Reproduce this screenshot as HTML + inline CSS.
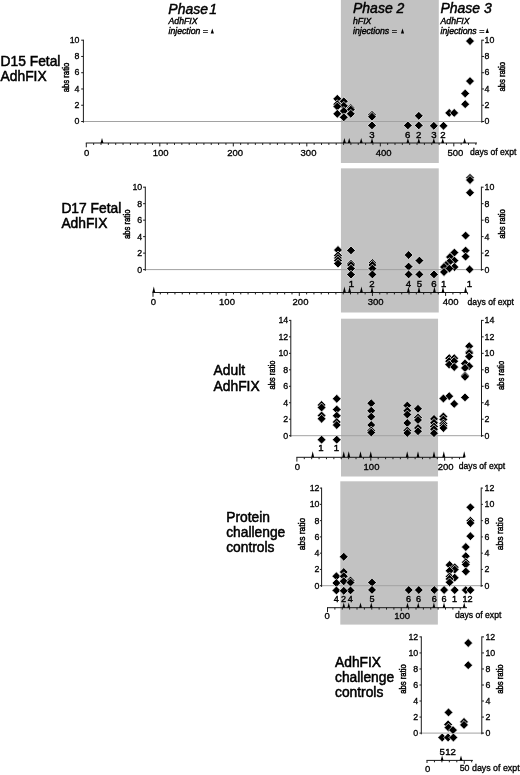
<!DOCTYPE html>
<html><head><meta charset="utf-8"><title>Figure</title>
<style>
html,body{margin:0;padding:0;background:#fff;}
svg{display:block;font-family:"Liberation Sans",sans-serif;}
text{stroke:#000;stroke-width:0.32;fill:#000;}
.d{fill:#000;stroke:#fff;stroke-width:0.7;}
.t{fill:#000;}
.ax{stroke:#1a1a1a;stroke-width:1;fill:none;}
.zl{stroke:#a2a2a2;stroke-width:1;fill:none;}
.ph{stroke-width:0.45;font-size:14px;font-style:italic;fill:#000;}
.sub{stroke-width:0.4;font-size:8.7px;font-style:italic;fill:#000;}
.tk{font-size:9.5px;fill:#000;}
.n{stroke-width:0.4;font-size:9.6px;fill:#000;}
.ar{stroke-width:0.45;font-size:9.6px;fill:#000;}
.de{font-size:8.6px;fill:#000;}
.lab{font-size:13.8px;stroke-width:0.5;fill:#000;}
</style></head><body>
<svg width="520" height="775" viewBox="0 0 520 775">
<rect width="520" height="775" fill="#fff"/>
<rect x="340.9" y="0" width="97.90" height="163.00" fill="#c2c2c2"/>
<rect x="340.95" y="168.35" width="97.80" height="144.15" fill="#c2c2c2"/>
<rect x="341.0" y="318.7" width="97.05" height="157.80" fill="#c2c2c2"/>
<rect x="340.3" y="481.3" width="97.55" height="143.30" fill="#c2c2c2"/>
<text x="168.30" y="13.50" class="ph" word-spacing="-2.6">Phase 1</text>
<text x="168.50" y="24.30" class="sub">AdhFIX</text>
<text x="168.50" y="33.60" class="sub">injection =</text>
<path class="t" d="M212.30 28.40L213.90 33.40L210.70 33.40Z"/>
<text x="353.00" y="13.20" class="ph">Phase 2</text>
<text x="353.00" y="24.20" class="sub">hFIX</text>
<text x="353.00" y="33.60" class="sub">injections =</text>
<path class="t" d="M402.50 28.40L404.10 33.40L400.90 33.40Z"/>
<text x="440.40" y="13.20" class="ph">Phase 3</text>
<text x="440.50" y="24.20" class="sub">AdhFIX</text>
<text x="440.50" y="33.60" class="sub">injections =</text>
<path class="t" d="M487.30 28.00L488.90 33.00L485.70 33.00Z"/>
<path class="zl" d="M83.00 121.50L483.00 121.50"/>
<path class="ax" d="M83.40 39.70L83.40 122.70"/>
<path class="ax" d="M81.20 121.50L83.40 121.50"/>
<text class="tk" text-anchor="end" transform="translate(79.50 124.10) scale(0.93 1)">0</text>
<path class="ax" d="M81.20 105.24L83.40 105.24"/>
<text class="tk" text-anchor="end" transform="translate(79.50 107.84) scale(0.93 1)">2</text>
<path class="ax" d="M81.20 88.98L83.40 88.98"/>
<text class="tk" text-anchor="end" transform="translate(79.50 91.58) scale(0.93 1)">4</text>
<path class="ax" d="M81.20 72.72L83.40 72.72"/>
<text class="tk" text-anchor="end" transform="translate(79.50 75.32) scale(0.93 1)">6</text>
<path class="ax" d="M81.20 56.46L83.40 56.46"/>
<text class="tk" text-anchor="end" transform="translate(79.50 59.06) scale(0.93 1)">8</text>
<path class="ax" d="M81.20 40.20L83.40 40.20"/>
<text class="tk" text-anchor="end" transform="translate(79.50 42.80) scale(0.93 1)">10</text>
<path class="ax" d="M481.80 39.70L481.80 122.70"/>
<path class="ax" d="M481.80 121.50L484.00 121.50"/>
<text class="tk" text-anchor="start" transform="translate(484.50 124.10) scale(0.93 1)">0</text>
<path class="ax" d="M481.80 105.24L484.00 105.24"/>
<text class="tk" text-anchor="start" transform="translate(484.50 107.84) scale(0.93 1)">2</text>
<path class="ax" d="M481.80 88.98L484.00 88.98"/>
<text class="tk" text-anchor="start" transform="translate(484.50 91.58) scale(0.93 1)">4</text>
<path class="ax" d="M481.80 72.72L484.00 72.72"/>
<text class="tk" text-anchor="start" transform="translate(484.50 75.32) scale(0.93 1)">6</text>
<path class="ax" d="M481.80 56.46L484.00 56.46"/>
<text class="tk" text-anchor="start" transform="translate(484.50 59.06) scale(0.93 1)">8</text>
<path class="ax" d="M481.80 40.20L484.00 40.20"/>
<text class="tk" text-anchor="start" transform="translate(484.50 42.80) scale(0.93 1)">10</text>
<text class="ar" text-anchor="middle" style="font-size:9.6px" textLength="29.6" lengthAdjust="spacingAndGlyphs" transform="translate(68.50 77.50) rotate(-90)">abs ratio</text>
<text class="ar" text-anchor="middle" style="font-size:9.6px" textLength="29.6" lengthAdjust="spacingAndGlyphs" transform="translate(505.00 76.80) rotate(-90)">abs ratio</text>
<text x="0.60" y="66.00" class="lab">D15 Fetal</text>
<text x="0.60" y="81.00" class="lab">AdhFIX</text>
<path class="ax" d="M85.80 143.00L477.00 143.00"/>
<path class="ax" d="M86.30 143.00L86.30 147.30"/>
<path class="ax" d="M93.65 143.00L93.65 144.90"/>
<path class="ax" d="M101.00 143.00L101.00 144.90"/>
<path class="ax" d="M108.35 143.00L108.35 144.90"/>
<path class="ax" d="M115.70 143.00L115.70 144.90"/>
<path class="ax" d="M123.05 143.00L123.05 144.90"/>
<path class="ax" d="M130.40 143.00L130.40 144.90"/>
<path class="ax" d="M137.75 143.00L137.75 144.90"/>
<path class="ax" d="M145.10 143.00L145.10 144.90"/>
<path class="ax" d="M152.45 143.00L152.45 144.90"/>
<path class="ax" d="M159.80 143.00L159.80 146.40"/>
<path class="ax" d="M167.15 143.00L167.15 144.90"/>
<path class="ax" d="M174.50 143.00L174.50 144.90"/>
<path class="ax" d="M181.85 143.00L181.85 144.90"/>
<path class="ax" d="M189.20 143.00L189.20 144.90"/>
<path class="ax" d="M196.55 143.00L196.55 144.90"/>
<path class="ax" d="M203.90 143.00L203.90 144.90"/>
<path class="ax" d="M211.25 143.00L211.25 144.90"/>
<path class="ax" d="M218.60 143.00L218.60 144.90"/>
<path class="ax" d="M225.95 143.00L225.95 144.90"/>
<path class="ax" d="M233.30 143.00L233.30 146.40"/>
<path class="ax" d="M240.65 143.00L240.65 144.90"/>
<path class="ax" d="M248.00 143.00L248.00 144.90"/>
<path class="ax" d="M255.35 143.00L255.35 144.90"/>
<path class="ax" d="M262.70 143.00L262.70 144.90"/>
<path class="ax" d="M270.05 143.00L270.05 144.90"/>
<path class="ax" d="M277.40 143.00L277.40 144.90"/>
<path class="ax" d="M284.75 143.00L284.75 144.90"/>
<path class="ax" d="M292.10 143.00L292.10 144.90"/>
<path class="ax" d="M299.45 143.00L299.45 144.90"/>
<path class="ax" d="M306.80 143.00L306.80 146.40"/>
<path class="ax" d="M314.15 143.00L314.15 144.90"/>
<path class="ax" d="M321.50 143.00L321.50 144.90"/>
<path class="ax" d="M328.85 143.00L328.85 144.90"/>
<path class="ax" d="M336.20 143.00L336.20 144.90"/>
<path class="ax" d="M343.55 143.00L343.55 144.90"/>
<path class="ax" d="M350.90 143.00L350.90 144.90"/>
<path class="ax" d="M358.25 143.00L358.25 144.90"/>
<path class="ax" d="M365.60 143.00L365.60 144.90"/>
<path class="ax" d="M372.95 143.00L372.95 144.90"/>
<path class="ax" d="M380.30 143.00L380.30 146.40"/>
<path class="ax" d="M387.65 143.00L387.65 144.90"/>
<path class="ax" d="M395.00 143.00L395.00 144.90"/>
<path class="ax" d="M402.35 143.00L402.35 144.90"/>
<path class="ax" d="M409.70 143.00L409.70 144.90"/>
<path class="ax" d="M417.05 143.00L417.05 144.90"/>
<path class="ax" d="M424.40 143.00L424.40 144.90"/>
<path class="ax" d="M431.75 143.00L431.75 144.90"/>
<path class="ax" d="M439.10 143.00L439.10 144.90"/>
<path class="ax" d="M446.45 143.00L446.45 144.90"/>
<path class="ax" d="M453.80 143.00L453.80 146.40"/>
<path class="ax" d="M461.15 143.00L461.15 144.90"/>
<path class="ax" d="M468.50 143.00L468.50 144.90"/>
<path class="ax" d="M475.85 143.00L475.85 144.90"/>
<text x="86.60" y="156.00" class="tk" text-anchor="middle">0</text>
<text x="160.60" y="156.00" class="tk" text-anchor="middle">100</text>
<text x="235.20" y="156.00" class="tk" text-anchor="middle">200</text>
<text x="308.50" y="156.00" class="tk" text-anchor="middle">300</text>
<text x="383.60" y="156.00" class="tk" text-anchor="middle">400</text>
<text x="455.40" y="156.00" class="tk" text-anchor="middle">500</text>
<text x="470.00" y="155.30" class="de">days of expt</text>
<path class="t" d="M102.00 138.00L103.45 143.00L100.55 143.00Z"/>
<path class="t" d="M344.40 138.00L345.85 143.00L342.95 143.00Z"/>
<path class="t" d="M349.20 138.00L350.65 143.00L347.75 143.00Z"/>
<path class="t" d="M361.20 138.00L362.65 143.00L359.75 143.00Z"/>
<path class="t" d="M372.00 138.00L373.45 143.00L370.55 143.00Z"/>
<path class="t" d="M407.90 138.00L409.35 143.00L406.45 143.00Z"/>
<path class="t" d="M418.80 138.00L420.25 143.00L417.35 143.00Z"/>
<path class="t" d="M433.80 138.00L435.25 143.00L432.35 143.00Z"/>
<path class="t" d="M442.70 138.00L444.15 143.00L441.25 143.00Z"/>
<path class="t" d="M464.60 138.00L466.05 143.00L463.15 143.00Z"/>
<path class="d" d="M470.00 36.70L474.40 41.10L470.00 45.50L465.60 41.10Z"/>
<path class="d" d="M470.00 76.70L474.40 81.10L470.00 85.50L465.60 81.10Z"/>
<path class="d" d="M465.20 89.10L469.60 93.50L465.20 97.90L460.80 93.50Z"/>
<path class="d" d="M337.30 94.40L341.70 98.80L337.30 103.20L332.90 98.80Z"/>
<path class="d" d="M343.80 96.90L348.20 101.30L343.80 105.70L339.40 101.30Z"/>
<path class="d" d="M337.30 99.80L341.70 104.20L337.30 108.60L332.90 104.20Z"/>
<path class="d" d="M465.20 99.80L469.60 104.20L465.20 108.60L460.80 104.20Z"/>
<path class="d" d="M343.80 101.40L348.20 105.80L343.80 110.20L339.40 105.80Z"/>
<path class="d" d="M337.30 102.10L341.70 106.50L337.30 110.90L332.90 106.50Z"/>
<path class="d" d="M350.80 103.60L355.20 108.00L350.80 112.40L346.40 108.00Z"/>
<path class="d" d="M350.80 105.20L355.20 109.60L350.80 114.00L346.40 109.60Z"/>
<path class="d" d="M343.80 106.60L348.20 111.00L343.80 115.40L339.40 111.00Z"/>
<path class="d" d="M449.20 108.50L453.60 112.90L449.20 117.30L444.80 112.90Z"/>
<path class="d" d="M454.20 108.50L458.60 112.90L454.20 117.30L449.80 112.90Z"/>
<path class="d" d="M337.30 109.40L341.70 113.80L337.30 118.20L332.90 113.80Z"/>
<path class="d" d="M350.80 109.40L355.20 113.80L350.80 118.20L346.40 113.80Z"/>
<path class="d" d="M372.00 110.40L376.40 114.80L372.00 119.20L367.60 114.80Z"/>
<path class="d" d="M418.80 111.40L423.20 115.80L418.80 120.20L414.40 115.80Z"/>
<path class="d" d="M372.00 112.30L376.40 116.70L372.00 121.10L367.60 116.70Z"/>
<path class="d" d="M343.80 112.90L348.20 117.30L343.80 121.70L339.40 117.30Z"/>
<path class="d" d="M372.00 121.00L376.40 125.40L372.00 129.80L367.60 125.40Z"/>
<path class="d" d="M407.90 121.00L412.30 125.40L407.90 129.80L403.50 125.40Z"/>
<path class="d" d="M418.80 121.00L423.20 125.40L418.80 129.80L414.40 125.40Z"/>
<path class="d" d="M433.80 121.40L438.20 125.80L433.80 130.20L429.40 125.80Z"/>
<path class="d" d="M443.50 121.40L447.90 125.80L443.50 130.20L439.10 125.80Z"/>
<text x="372.00" y="137.80" class="n" text-anchor="middle">3</text>
<text x="407.60" y="137.80" class="n" text-anchor="middle">6</text>
<text x="418.60" y="137.80" class="n" text-anchor="middle">2</text>
<text x="433.80" y="137.80" class="n" text-anchor="middle">3</text>
<text x="443.00" y="137.80" class="n" text-anchor="middle">2</text>
<path class="zl" d="M145.50 269.60L483.00 269.60"/>
<path class="ax" d="M145.30 186.70L145.30 270.80"/>
<path class="ax" d="M143.10 269.60L145.30 269.60"/>
<text class="tk" text-anchor="end" transform="translate(142.20 272.60) scale(0.93 1)">0</text>
<path class="ax" d="M143.10 253.12L145.30 253.12"/>
<text class="tk" text-anchor="end" transform="translate(142.20 256.12) scale(0.93 1)">2</text>
<path class="ax" d="M143.10 236.64L145.30 236.64"/>
<text class="tk" text-anchor="end" transform="translate(142.20 239.64) scale(0.93 1)">4</text>
<path class="ax" d="M143.10 220.16L145.30 220.16"/>
<text class="tk" text-anchor="end" transform="translate(142.20 223.16) scale(0.93 1)">6</text>
<path class="ax" d="M143.10 203.68L145.30 203.68"/>
<text class="tk" text-anchor="end" transform="translate(142.20 206.68) scale(0.93 1)">8</text>
<path class="ax" d="M143.10 187.20L145.30 187.20"/>
<text class="tk" text-anchor="end" transform="translate(142.20 190.20) scale(0.93 1)">10</text>
<path class="ax" d="M481.40 186.70L481.40 270.80"/>
<path class="ax" d="M481.40 269.60L483.60 269.60"/>
<text class="tk" text-anchor="start" transform="translate(484.50 272.60) scale(0.93 1)">0</text>
<path class="ax" d="M481.40 253.12L483.60 253.12"/>
<text class="tk" text-anchor="start" transform="translate(484.50 256.12) scale(0.93 1)">2</text>
<path class="ax" d="M481.40 236.64L483.60 236.64"/>
<text class="tk" text-anchor="start" transform="translate(484.50 239.64) scale(0.93 1)">4</text>
<path class="ax" d="M481.40 220.16L483.60 220.16"/>
<text class="tk" text-anchor="start" transform="translate(484.50 223.16) scale(0.93 1)">6</text>
<path class="ax" d="M481.40 203.68L483.60 203.68"/>
<text class="tk" text-anchor="start" transform="translate(484.50 206.68) scale(0.93 1)">8</text>
<path class="ax" d="M481.40 187.20L483.60 187.20"/>
<text class="tk" text-anchor="start" transform="translate(484.50 190.20) scale(0.93 1)">10</text>
<text class="ar" text-anchor="middle" style="font-size:9.6px" textLength="29.6" lengthAdjust="spacingAndGlyphs" transform="translate(130.20 224.30) rotate(-90)">abs ratio</text>
<text class="ar" text-anchor="middle" style="font-size:9.6px" textLength="29.6" lengthAdjust="spacingAndGlyphs" transform="translate(504.70 224.00) rotate(-90)">abs ratio</text>
<text x="61.40" y="212.50" class="lab">D17 Fetal</text>
<text x="61.40" y="227.50" class="lab">AdhFIX</text>
<path class="ax" d="M152.50 292.50L467.50 292.50"/>
<path class="ax" d="M153.00 292.50L153.00 296.80"/>
<path class="ax" d="M160.31 292.50L160.31 294.40"/>
<path class="ax" d="M167.63 292.50L167.63 294.40"/>
<path class="ax" d="M174.94 292.50L174.94 294.40"/>
<path class="ax" d="M182.26 292.50L182.26 294.40"/>
<path class="ax" d="M189.57 292.50L189.57 294.40"/>
<path class="ax" d="M196.89 292.50L196.89 294.40"/>
<path class="ax" d="M204.21 292.50L204.21 294.40"/>
<path class="ax" d="M211.52 292.50L211.52 294.40"/>
<path class="ax" d="M218.84 292.50L218.84 294.40"/>
<path class="ax" d="M226.15 292.50L226.15 295.90"/>
<path class="ax" d="M233.47 292.50L233.47 294.40"/>
<path class="ax" d="M240.78 292.50L240.78 294.40"/>
<path class="ax" d="M248.09 292.50L248.09 294.40"/>
<path class="ax" d="M255.41 292.50L255.41 294.40"/>
<path class="ax" d="M262.73 292.50L262.73 294.40"/>
<path class="ax" d="M270.04 292.50L270.04 294.40"/>
<path class="ax" d="M277.36 292.50L277.36 294.40"/>
<path class="ax" d="M284.67 292.50L284.67 294.40"/>
<path class="ax" d="M291.99 292.50L291.99 294.40"/>
<path class="ax" d="M299.30 292.50L299.30 295.90"/>
<path class="ax" d="M306.62 292.50L306.62 294.40"/>
<path class="ax" d="M313.93 292.50L313.93 294.40"/>
<path class="ax" d="M321.25 292.50L321.25 294.40"/>
<path class="ax" d="M328.56 292.50L328.56 294.40"/>
<path class="ax" d="M335.88 292.50L335.88 294.40"/>
<path class="ax" d="M343.19 292.50L343.19 294.40"/>
<path class="ax" d="M350.50 292.50L350.50 294.40"/>
<path class="ax" d="M357.82 292.50L357.82 294.40"/>
<path class="ax" d="M365.13 292.50L365.13 294.40"/>
<path class="ax" d="M372.45 292.50L372.45 295.90"/>
<path class="ax" d="M379.76 292.50L379.76 294.40"/>
<path class="ax" d="M387.08 292.50L387.08 294.40"/>
<path class="ax" d="M394.39 292.50L394.39 294.40"/>
<path class="ax" d="M401.71 292.50L401.71 294.40"/>
<path class="ax" d="M409.03 292.50L409.03 294.40"/>
<path class="ax" d="M416.34 292.50L416.34 294.40"/>
<path class="ax" d="M423.66 292.50L423.66 294.40"/>
<path class="ax" d="M430.97 292.50L430.97 294.40"/>
<path class="ax" d="M438.29 292.50L438.29 294.40"/>
<path class="ax" d="M445.60 292.50L445.60 295.90"/>
<path class="ax" d="M452.92 292.50L452.92 294.40"/>
<path class="ax" d="M460.23 292.50L460.23 294.40"/>
<path class="ax" d="M467.55 292.50L467.55 294.40"/>
<text x="153.30" y="305.20" class="tk" text-anchor="middle">0</text>
<text x="227.00" y="305.20" class="tk" text-anchor="middle">100</text>
<text x="300.50" y="305.20" class="tk" text-anchor="middle">200</text>
<text x="375.60" y="305.20" class="tk" text-anchor="middle">300</text>
<text x="450.60" y="305.20" class="tk" text-anchor="middle">400</text>
<text x="467.60" y="305.00" class="de">days of expt</text>
<path class="t" d="M153.80 286.50L155.25 292.50L152.35 292.50Z"/>
<path class="t" d="M344.40 286.50L345.85 292.50L342.95 292.50Z"/>
<path class="t" d="M349.60 286.50L351.05 292.50L348.15 292.50Z"/>
<path class="t" d="M361.40 286.50L362.85 292.50L359.95 292.50Z"/>
<path class="t" d="M372.00 286.50L373.45 292.50L370.55 292.50Z"/>
<path class="t" d="M408.40 286.50L409.85 292.50L406.95 292.50Z"/>
<path class="t" d="M419.00 286.50L420.45 292.50L417.55 292.50Z"/>
<path class="t" d="M434.40 286.50L435.85 292.50L432.95 292.50Z"/>
<path class="t" d="M443.00 286.50L444.45 292.50L441.55 292.50Z"/>
<path class="t" d="M465.60 286.50L467.05 292.50L464.15 292.50Z"/>
<path class="d" d="M470.00 173.40L474.40 177.80L470.00 182.20L465.60 177.80Z"/>
<path class="d" d="M470.00 175.60L474.40 180.00L470.00 184.40L465.60 180.00Z"/>
<path class="d" d="M470.00 188.30L474.40 192.70L470.00 197.10L465.60 192.70Z"/>
<path class="d" d="M465.60 231.20L470.00 235.60L465.60 240.00L461.20 235.60Z"/>
<path class="d" d="M338.00 245.60L342.40 250.00L338.00 254.40L333.60 250.00Z"/>
<path class="d" d="M351.00 246.00L355.40 250.40L351.00 254.80L346.60 250.40Z"/>
<path class="d" d="M465.60 246.20L470.00 250.60L465.60 255.00L461.20 250.60Z"/>
<path class="d" d="M454.40 248.20L458.80 252.60L454.40 257.00L450.00 252.60Z"/>
<path class="d" d="M408.60 250.60L413.00 255.00L408.60 259.40L404.20 255.00Z"/>
<path class="d" d="M338.00 251.00L342.40 255.40L338.00 259.80L333.60 255.40Z"/>
<path class="d" d="M465.60 252.20L470.00 256.60L465.60 261.00L461.20 256.60Z"/>
<path class="d" d="M450.00 252.60L454.40 257.00L450.00 261.40L445.60 257.00Z"/>
<path class="d" d="M338.00 253.60L342.40 258.00L338.00 262.40L333.60 258.00Z"/>
<path class="d" d="M338.00 256.20L342.40 260.60L338.00 265.00L333.60 260.60Z"/>
<path class="d" d="M419.40 256.20L423.80 260.60L419.40 265.00L415.00 260.60Z"/>
<path class="d" d="M454.40 256.20L458.80 260.60L454.40 265.00L450.00 260.60Z"/>
<path class="d" d="M449.40 257.60L453.80 262.00L449.40 266.40L445.00 262.00Z"/>
<path class="d" d="M372.40 258.60L376.80 263.00L372.40 267.40L368.00 263.00Z"/>
<path class="d" d="M351.00 259.00L355.40 263.40L351.00 267.80L346.60 263.40Z"/>
<path class="d" d="M338.00 259.20L342.40 263.60L338.00 268.00L333.60 263.60Z"/>
<path class="d" d="M351.00 260.60L355.40 265.00L351.00 269.40L346.60 265.00Z"/>
<path class="d" d="M372.40 260.60L376.80 265.00L372.40 269.40L368.00 265.00Z"/>
<path class="d" d="M446.00 260.60L450.40 265.00L446.00 269.40L441.60 265.00Z"/>
<path class="d" d="M408.60 262.20L413.00 266.60L408.60 271.00L404.20 266.60Z"/>
<path class="d" d="M444.00 262.60L448.40 267.00L444.00 271.40L439.60 267.00Z"/>
<path class="d" d="M454.40 262.60L458.80 267.00L454.40 271.40L450.00 267.00Z"/>
<path class="d" d="M351.00 264.20L355.40 268.60L351.00 273.00L346.60 268.60Z"/>
<path class="d" d="M372.40 264.20L376.80 268.60L372.40 273.00L368.00 268.60Z"/>
<path class="d" d="M449.40 264.20L453.80 268.60L449.40 273.00L445.00 268.60Z"/>
<path class="d" d="M469.60 265.00L474.00 269.40L469.60 273.80L465.20 269.40Z"/>
<path class="d" d="M444.00 267.60L448.40 272.00L444.00 276.40L439.60 272.00Z"/>
<path class="d" d="M372.40 270.00L376.80 274.40L372.40 278.80L368.00 274.40Z"/>
<path class="d" d="M408.60 270.00L413.00 274.40L408.60 278.80L404.20 274.40Z"/>
<path class="d" d="M419.40 270.00L423.80 274.40L419.40 278.80L415.00 274.40Z"/>
<path class="d" d="M434.00 270.00L438.40 274.40L434.00 278.80L429.60 274.40Z"/>
<path class="d" d="M351.00 270.20L355.40 274.60L351.00 279.00L346.60 274.60Z"/>
<text x="351.50" y="287.40" class="n" text-anchor="middle">1</text>
<text x="372.00" y="287.40" class="n" text-anchor="middle">2</text>
<text x="408.50" y="287.40" class="n" text-anchor="middle">4</text>
<text x="419.50" y="287.40" class="n" text-anchor="middle">5</text>
<text x="434.00" y="287.40" class="n" text-anchor="middle">6</text>
<text x="443.60" y="287.40" class="n" text-anchor="middle">1</text>
<text x="469.40" y="287.40" class="n" text-anchor="middle">1</text>
<path class="zl" d="M290.50 435.70L483.00 435.70"/>
<path class="ax" d="M290.80 319.90L290.80 436.90"/>
<path class="ax" d="M289.00 435.70L290.80 435.70"/>
<text class="tk" text-anchor="end" transform="translate(288.20 438.70) scale(0.93 1)">0</text>
<path class="ax" d="M289.00 419.23L290.80 419.23"/>
<text class="tk" text-anchor="end" transform="translate(288.20 422.23) scale(0.93 1)">2</text>
<path class="ax" d="M289.00 402.76L290.80 402.76"/>
<text class="tk" text-anchor="end" transform="translate(288.20 405.76) scale(0.93 1)">4</text>
<path class="ax" d="M289.00 386.29L290.80 386.29"/>
<text class="tk" text-anchor="end" transform="translate(288.20 389.29) scale(0.93 1)">6</text>
<path class="ax" d="M289.00 369.81L290.80 369.81"/>
<text class="tk" text-anchor="end" transform="translate(288.20 372.81) scale(0.93 1)">8</text>
<path class="ax" d="M289.00 353.34L290.80 353.34"/>
<text class="tk" text-anchor="end" transform="translate(288.20 356.34) scale(0.93 1)">10</text>
<path class="ax" d="M289.00 336.87L290.80 336.87"/>
<text class="tk" text-anchor="end" transform="translate(288.20 339.87) scale(0.93 1)">12</text>
<path class="ax" d="M289.00 320.40L290.80 320.40"/>
<text class="tk" text-anchor="end" transform="translate(288.20 323.40) scale(0.93 1)">14</text>
<path class="ax" d="M481.50 319.90L481.50 436.90"/>
<path class="ax" d="M481.50 435.70L483.70 435.70"/>
<text class="tk" text-anchor="start" transform="translate(484.60 438.70) scale(0.93 1)">0</text>
<path class="ax" d="M481.50 419.23L483.70 419.23"/>
<text class="tk" text-anchor="start" transform="translate(484.60 422.23) scale(0.93 1)">2</text>
<path class="ax" d="M481.50 402.76L483.70 402.76"/>
<text class="tk" text-anchor="start" transform="translate(484.60 405.76) scale(0.93 1)">4</text>
<path class="ax" d="M481.50 386.29L483.70 386.29"/>
<text class="tk" text-anchor="start" transform="translate(484.60 389.29) scale(0.93 1)">6</text>
<path class="ax" d="M481.50 369.81L483.70 369.81"/>
<text class="tk" text-anchor="start" transform="translate(484.60 372.81) scale(0.93 1)">8</text>
<path class="ax" d="M481.50 353.34L483.70 353.34"/>
<text class="tk" text-anchor="start" transform="translate(484.60 356.34) scale(0.93 1)">10</text>
<path class="ax" d="M481.50 336.87L483.70 336.87"/>
<text class="tk" text-anchor="start" transform="translate(484.60 339.87) scale(0.93 1)">12</text>
<path class="ax" d="M481.50 320.40L483.70 320.40"/>
<text class="tk" text-anchor="start" transform="translate(484.60 323.40) scale(0.93 1)">14</text>
<text class="ar" text-anchor="middle" style="font-size:9.0px" textLength="29.2" lengthAdjust="spacingAndGlyphs" transform="translate(275.30 375.00) rotate(-90)">abs ratio</text>
<text class="ar" text-anchor="middle" style="font-size:9.4px" textLength="29.4" lengthAdjust="spacingAndGlyphs" transform="translate(503.50 375.40) rotate(-90)">abs ratio</text>
<text x="213.60" y="375.00" class="lab">Adult</text>
<text x="213.60" y="391.20" class="lab">AdhFIX</text>
<path class="ax" d="M296.40 457.30L464.60 457.30"/>
<path class="ax" d="M296.90 457.30L296.90 461.60"/>
<path class="ax" d="M304.29 457.30L304.29 459.20"/>
<path class="ax" d="M311.68 457.30L311.68 459.20"/>
<path class="ax" d="M319.07 457.30L319.07 459.20"/>
<path class="ax" d="M326.46 457.30L326.46 459.20"/>
<path class="ax" d="M333.85 457.30L333.85 459.20"/>
<path class="ax" d="M341.24 457.30L341.24 459.20"/>
<path class="ax" d="M348.63 457.30L348.63 459.20"/>
<path class="ax" d="M356.02 457.30L356.02 459.20"/>
<path class="ax" d="M363.41 457.30L363.41 459.20"/>
<path class="ax" d="M370.80 457.30L370.80 460.70"/>
<path class="ax" d="M378.19 457.30L378.19 459.20"/>
<path class="ax" d="M385.58 457.30L385.58 459.20"/>
<path class="ax" d="M392.97 457.30L392.97 459.20"/>
<path class="ax" d="M400.36 457.30L400.36 459.20"/>
<path class="ax" d="M407.75 457.30L407.75 459.20"/>
<path class="ax" d="M415.14 457.30L415.14 459.20"/>
<path class="ax" d="M422.53 457.30L422.53 459.20"/>
<path class="ax" d="M429.92 457.30L429.92 459.20"/>
<path class="ax" d="M437.31 457.30L437.31 459.20"/>
<path class="ax" d="M444.70 457.30L444.70 460.70"/>
<path class="ax" d="M452.09 457.30L452.09 459.20"/>
<path class="ax" d="M459.48 457.30L459.48 459.20"/>
<text x="297.40" y="469.50" class="tk" text-anchor="middle">0</text>
<text x="371.50" y="469.50" class="tk" text-anchor="middle">100</text>
<text x="445.70" y="469.50" class="tk" text-anchor="middle">200</text>
<text x="458.80" y="469.20" class="de">days of expt</text>
<path class="t" d="M312.70 451.30L314.15 457.30L311.25 457.30Z"/>
<path class="t" d="M343.75 451.30L345.20 457.30L342.30 457.30Z"/>
<path class="t" d="M348.75 451.30L350.20 457.30L347.30 457.30Z"/>
<path class="t" d="M360.50 451.30L361.95 457.30L359.05 457.30Z"/>
<path class="t" d="M370.75 451.30L372.20 457.30L369.30 457.30Z"/>
<path class="t" d="M407.20 451.30L408.65 457.30L405.75 457.30Z"/>
<path class="t" d="M418.00 451.30L419.45 457.30L416.55 457.30Z"/>
<path class="t" d="M434.00 451.30L435.45 457.30L432.55 457.30Z"/>
<path class="t" d="M443.80 451.30L445.25 457.30L442.35 457.30Z"/>
<path class="t" d="M464.20 451.30L465.65 457.30L462.75 457.30Z"/>
<path class="d" d="M469.20 341.80L473.60 346.20L469.20 350.60L464.80 346.20Z"/>
<path class="d" d="M469.20 347.60L473.60 352.00L469.20 356.40L464.80 352.00Z"/>
<path class="d" d="M469.20 348.60L473.60 353.00L469.20 357.40L464.80 353.00Z"/>
<path class="d" d="M469.20 352.10L473.60 356.50L469.20 360.90L464.80 356.50Z"/>
<path class="d" d="M449.20 353.80L453.60 358.20L449.20 362.60L444.80 358.20Z"/>
<path class="d" d="M454.20 353.80L458.60 358.20L454.20 362.60L449.80 358.20Z"/>
<path class="d" d="M449.20 356.80L453.60 361.20L449.20 365.60L444.80 361.20Z"/>
<path class="d" d="M454.20 356.80L458.60 361.20L454.20 365.60L449.80 361.20Z"/>
<path class="d" d="M465.00 359.10L469.40 363.50L465.00 367.90L460.60 363.50Z"/>
<path class="d" d="M449.20 360.20L453.60 364.60L449.20 369.00L444.80 364.60Z"/>
<path class="d" d="M469.20 361.80L473.60 366.20L469.20 370.60L464.80 366.20Z"/>
<path class="d" d="M454.20 362.60L458.60 367.00L454.20 371.40L449.80 367.00Z"/>
<path class="d" d="M465.00 363.60L469.40 368.00L465.00 372.40L460.60 368.00Z"/>
<path class="d" d="M465.00 371.10L469.40 375.50L465.00 379.90L460.60 375.50Z"/>
<path class="d" d="M465.00 372.40L469.40 376.80L465.00 381.20L460.60 376.80Z"/>
<path class="d" d="M449.20 391.80L453.60 396.20L449.20 400.60L444.80 396.20Z"/>
<path class="d" d="M465.00 393.00L469.40 397.40L465.00 401.80L460.60 397.40Z"/>
<path class="d" d="M443.40 394.10L447.80 398.50L443.40 402.90L439.00 398.50Z"/>
<path class="d" d="M336.75 394.35L341.15 398.75L336.75 403.15L332.35 398.75Z"/>
<path class="d" d="M371.25 398.85L375.65 403.25L371.25 407.65L366.85 403.25Z"/>
<path class="d" d="M454.20 399.50L458.60 403.90L454.20 408.30L449.80 403.90Z"/>
<path class="d" d="M321.60 400.60L326.00 405.00L321.60 409.40L317.20 405.00Z"/>
<path class="d" d="M407.30 401.10L411.70 405.50L407.30 409.90L402.90 405.50Z"/>
<path class="d" d="M321.60 403.10L326.00 407.50L321.60 411.90L317.20 407.50Z"/>
<path class="d" d="M418.00 404.35L422.40 408.75L418.00 413.15L413.60 408.75Z"/>
<path class="d" d="M336.75 405.10L341.15 409.50L336.75 413.90L332.35 409.50Z"/>
<path class="d" d="M371.25 406.35L375.65 410.75L371.25 415.15L366.85 410.75Z"/>
<path class="d" d="M407.30 406.35L411.70 410.75L407.30 415.15L402.90 410.75Z"/>
<path class="d" d="M407.30 410.10L411.70 414.50L407.30 418.90L402.90 414.50Z"/>
<path class="d" d="M321.60 411.10L326.00 415.50L321.60 419.90L317.20 415.50Z"/>
<path class="d" d="M336.75 411.35L341.15 415.75L336.75 420.15L332.35 415.75Z"/>
<path class="d" d="M443.40 412.10L447.80 416.50L443.40 420.90L439.00 416.50Z"/>
<path class="d" d="M371.25 412.35L375.65 416.75L371.25 421.15L366.85 416.75Z"/>
<path class="d" d="M418.00 413.10L422.40 417.50L418.00 421.90L413.60 417.50Z"/>
<path class="d" d="M321.60 414.35L326.00 418.75L321.60 423.15L317.20 418.75Z"/>
<path class="d" d="M434.00 414.50L438.40 418.90L434.00 423.30L429.60 418.90Z"/>
<path class="d" d="M443.40 415.10L447.80 419.50L443.40 423.90L439.00 419.50Z"/>
<path class="d" d="M418.00 415.60L422.40 420.00L418.00 424.40L413.60 420.00Z"/>
<path class="d" d="M336.75 417.60L341.15 422.00L336.75 426.40L332.35 422.00Z"/>
<path class="d" d="M434.00 418.40L438.40 422.80L434.00 427.20L429.60 422.80Z"/>
<path class="d" d="M407.30 418.60L411.70 423.00L407.30 427.40L402.90 423.00Z"/>
<path class="d" d="M443.40 419.10L447.80 423.50L443.40 427.90L439.00 423.50Z"/>
<path class="d" d="M336.75 420.60L341.15 425.00L336.75 429.40L332.35 425.00Z"/>
<path class="d" d="M371.25 420.60L375.65 425.00L371.25 429.40L366.85 425.00Z"/>
<path class="d" d="M443.40 421.40L447.80 425.80L443.40 430.20L439.00 425.80Z"/>
<path class="d" d="M434.00 422.10L438.40 426.50L434.00 430.90L429.60 426.50Z"/>
<path class="d" d="M418.00 423.60L422.40 428.00L418.00 432.40L413.60 428.00Z"/>
<path class="d" d="M443.40 423.60L447.80 428.00L443.40 432.40L439.00 428.00Z"/>
<path class="d" d="M434.00 424.80L438.40 429.20L434.00 433.60L429.60 429.20Z"/>
<path class="d" d="M371.25 426.10L375.65 430.50L371.25 434.90L366.85 430.50Z"/>
<path class="d" d="M407.30 426.10L411.70 430.50L407.30 434.90L402.90 430.50Z"/>
<path class="d" d="M418.00 426.85L422.40 431.25L418.00 435.65L413.60 431.25Z"/>
<path class="d" d="M371.25 428.10L375.65 432.50L371.25 436.90L366.85 432.50Z"/>
<path class="d" d="M407.30 428.60L411.70 433.00L407.30 437.40L402.90 433.00Z"/>
<path class="d" d="M434.00 428.80L438.40 433.20L434.00 437.60L429.60 433.20Z"/>
<path class="d" d="M321.60 435.30L326.00 439.70L321.60 444.10L317.20 439.70Z"/>
<path class="d" d="M336.75 435.30L341.15 439.70L336.75 444.10L332.35 439.70Z"/>
<text x="321.00" y="451.30" class="n" text-anchor="middle">1</text>
<text x="336.50" y="451.30" class="n" text-anchor="middle">1</text>
<path class="zl" d="M321.20 585.70L483.00 585.70"/>
<path class="ax" d="M321.60 487.60L321.60 586.90"/>
<path class="ax" d="M319.90 585.70L321.60 585.70"/>
<text class="tk" text-anchor="end" transform="translate(319.50 588.70) scale(0.93 1)">0</text>
<path class="ax" d="M319.90 569.43L321.60 569.43"/>
<text class="tk" text-anchor="end" transform="translate(319.50 572.43) scale(0.93 1)">2</text>
<path class="ax" d="M319.90 553.17L321.60 553.17"/>
<text class="tk" text-anchor="end" transform="translate(319.50 556.17) scale(0.93 1)">4</text>
<path class="ax" d="M319.90 536.90L321.60 536.90"/>
<text class="tk" text-anchor="end" transform="translate(319.50 539.90) scale(0.93 1)">6</text>
<path class="ax" d="M319.90 520.63L321.60 520.63"/>
<text class="tk" text-anchor="end" transform="translate(319.50 523.63) scale(0.93 1)">8</text>
<path class="ax" d="M319.90 504.37L321.60 504.37"/>
<text class="tk" text-anchor="end" transform="translate(319.50 507.37) scale(0.93 1)">10</text>
<path class="ax" d="M319.90 488.10L321.60 488.10"/>
<text class="tk" text-anchor="end" transform="translate(319.50 491.10) scale(0.93 1)">12</text>
<path class="ax" d="M481.20 487.60L481.20 586.90"/>
<path class="ax" d="M481.20 585.70L482.90 585.70"/>
<text class="tk" text-anchor="start" transform="translate(484.50 588.70) scale(0.93 1)">0</text>
<path class="ax" d="M481.20 569.43L482.90 569.43"/>
<text class="tk" text-anchor="start" transform="translate(484.50 572.43) scale(0.93 1)">2</text>
<path class="ax" d="M481.20 553.17L482.90 553.17"/>
<text class="tk" text-anchor="start" transform="translate(484.50 556.17) scale(0.93 1)">4</text>
<path class="ax" d="M481.20 536.90L482.90 536.90"/>
<text class="tk" text-anchor="start" transform="translate(484.50 539.90) scale(0.93 1)">6</text>
<path class="ax" d="M481.20 520.63L482.90 520.63"/>
<text class="tk" text-anchor="start" transform="translate(484.50 523.63) scale(0.93 1)">8</text>
<path class="ax" d="M481.20 504.37L482.90 504.37"/>
<text class="tk" text-anchor="start" transform="translate(484.50 507.37) scale(0.93 1)">10</text>
<path class="ax" d="M481.20 488.10L482.90 488.10"/>
<text class="tk" text-anchor="start" transform="translate(484.50 491.10) scale(0.93 1)">12</text>
<text class="ar" text-anchor="middle" style="font-size:9.0px" textLength="32.6" lengthAdjust="spacingAndGlyphs" transform="translate(305.30 534.00) rotate(-90)">abs ratio</text>
<text class="ar" text-anchor="middle" style="font-size:9.4px" textLength="33.0" lengthAdjust="spacingAndGlyphs" transform="translate(503.30 533.80) rotate(-90)">abs ratio</text>
<text x="226.20" y="521.70" class="lab">Protein</text>
<text x="226.20" y="537.00" class="lab">challenge</text>
<text x="226.20" y="552.00" class="lab">controls</text>
<path class="ax" d="M327.00 607.70L467.00 607.70"/>
<path class="ax" d="M327.50 607.70L327.50 612.00"/>
<path class="ax" d="M334.88 607.70L334.88 609.60"/>
<path class="ax" d="M342.25 607.70L342.25 609.60"/>
<path class="ax" d="M349.62 607.70L349.62 609.60"/>
<path class="ax" d="M357.00 607.70L357.00 609.60"/>
<path class="ax" d="M364.38 607.70L364.38 609.60"/>
<path class="ax" d="M371.75 607.70L371.75 609.60"/>
<path class="ax" d="M379.12 607.70L379.12 609.60"/>
<path class="ax" d="M386.50 607.70L386.50 609.60"/>
<path class="ax" d="M393.88 607.70L393.88 609.60"/>
<path class="ax" d="M401.25 607.70L401.25 611.10"/>
<path class="ax" d="M408.62 607.70L408.62 609.60"/>
<path class="ax" d="M416.00 607.70L416.00 609.60"/>
<path class="ax" d="M423.38 607.70L423.38 609.60"/>
<path class="ax" d="M430.75 607.70L430.75 609.60"/>
<path class="ax" d="M438.12 607.70L438.12 609.60"/>
<path class="ax" d="M445.50 607.70L445.50 609.60"/>
<path class="ax" d="M452.88 607.70L452.88 609.60"/>
<path class="ax" d="M460.25 607.70L460.25 609.60"/>
<text x="327.20" y="618.80" class="tk" text-anchor="middle">0</text>
<text x="402.20" y="618.80" class="tk" text-anchor="middle">100</text>
<text x="455.00" y="617.70" class="de">days of expt</text>
<path class="t" d="M343.75 602.40L345.15 607.70L342.35 607.70Z"/>
<path class="t" d="M348.75 602.40L350.15 607.70L347.35 607.70Z"/>
<path class="t" d="M360.50 602.40L361.90 607.70L359.10 607.70Z"/>
<path class="t" d="M371.25 602.40L372.65 607.70L369.85 607.70Z"/>
<path class="t" d="M407.50 602.40L408.90 607.70L406.10 607.70Z"/>
<path class="t" d="M418.25 602.40L419.65 607.70L416.85 607.70Z"/>
<path class="t" d="M433.90 602.40L435.30 607.70L432.50 607.70Z"/>
<path class="t" d="M444.00 602.40L445.40 607.70L442.60 607.70Z"/>
<path class="t" d="M464.20 602.40L465.60 607.70L462.80 607.70Z"/>
<path class="d" d="M470.40 502.90L474.80 507.30L470.40 511.70L466.00 507.30Z"/>
<path class="d" d="M470.40 516.30L474.80 520.70L470.40 525.10L466.00 520.70Z"/>
<path class="d" d="M470.40 518.60L474.80 523.00L470.40 527.40L466.00 523.00Z"/>
<path class="d" d="M470.40 531.80L474.80 536.20L470.40 540.60L466.00 536.20Z"/>
<path class="d" d="M465.80 542.60L470.20 547.00L465.80 551.40L461.40 547.00Z"/>
<path class="d" d="M465.80 551.80L470.20 556.20L465.80 560.60L461.40 556.20Z"/>
<path class="d" d="M343.75 552.35L348.15 556.75L343.75 561.15L339.35 556.75Z"/>
<path class="d" d="M465.80 557.80L470.20 562.20L465.80 566.60L461.40 562.20Z"/>
<path class="d" d="M465.80 560.10L470.20 564.50L465.80 568.90L461.40 564.50Z"/>
<path class="d" d="M449.60 560.60L454.00 565.00L449.60 569.40L445.20 565.00Z"/>
<path class="d" d="M454.70 562.90L459.10 567.30L454.70 571.70L450.30 567.30Z"/>
<path class="d" d="M454.70 565.20L459.10 569.60L454.70 574.00L450.30 569.60Z"/>
<path class="d" d="M449.60 566.40L454.00 570.80L449.60 575.20L445.20 570.80Z"/>
<path class="d" d="M465.80 567.10L470.20 571.50L465.80 575.90L461.40 571.50Z"/>
<path class="d" d="M343.75 567.60L348.15 572.00L343.75 576.40L339.35 572.00Z"/>
<path class="d" d="M336.40 571.85L340.80 576.25L336.40 580.65L332.00 576.25Z"/>
<path class="d" d="M343.75 571.85L348.15 576.25L343.75 580.65L339.35 576.25Z"/>
<path class="d" d="M449.60 572.10L454.00 576.50L449.60 580.90L445.20 576.50Z"/>
<path class="d" d="M454.70 573.30L459.10 577.70L454.70 582.10L450.30 577.70Z"/>
<path class="d" d="M449.60 574.50L454.00 578.90L449.60 583.30L445.20 578.90Z"/>
<path class="d" d="M350.50 576.10L354.90 580.50L350.50 584.90L346.10 580.50Z"/>
<path class="d" d="M343.75 576.85L348.15 581.25L343.75 585.65L339.35 581.25Z"/>
<path class="d" d="M449.60 577.90L454.00 582.30L449.60 586.70L445.20 582.30Z"/>
<path class="d" d="M350.50 578.10L354.90 582.50L350.50 586.90L346.10 582.50Z"/>
<path class="d" d="M372.00 578.10L376.40 582.50L372.00 586.90L367.60 582.50Z"/>
<path class="d" d="M336.40 578.60L340.80 583.00L336.40 587.40L332.00 583.00Z"/>
<path class="d" d="M372.00 585.50L376.40 589.90L372.00 594.30L367.60 589.90Z"/>
<path class="d" d="M408.75 585.60L413.15 590.00L408.75 594.40L404.35 590.00Z"/>
<path class="d" d="M418.80 585.60L423.20 590.00L418.80 594.40L414.40 590.00Z"/>
<path class="d" d="M434.30 585.60L438.70 590.00L434.30 594.40L429.90 590.00Z"/>
<path class="d" d="M444.10 585.60L448.50 590.00L444.10 594.40L439.70 590.00Z"/>
<path class="d" d="M454.70 585.70L459.10 590.10L454.70 594.50L450.30 590.10Z"/>
<path class="d" d="M465.80 585.70L470.20 590.10L465.80 594.50L461.40 590.10Z"/>
<path class="d" d="M470.40 585.70L474.80 590.10L470.40 594.50L466.00 590.10Z"/>
<path class="d" d="M336.40 586.00L340.80 590.40L336.40 594.80L332.00 590.40Z"/>
<path class="d" d="M350.50 586.00L354.90 590.40L350.50 594.80L346.10 590.40Z"/>
<path class="d" d="M343.75 586.40L348.15 590.80L343.75 595.20L339.35 590.80Z"/>
<text x="336.20" y="601.80" class="n" text-anchor="middle" style="font-size:9.1px">4</text>
<text x="343.50" y="601.80" class="n" text-anchor="middle" style="font-size:9.1px">2</text>
<text x="350.20" y="601.80" class="n" text-anchor="middle" style="font-size:9.1px">4</text>
<text x="372.00" y="601.80" class="n" text-anchor="middle" style="font-size:9.1px">5</text>
<text x="408.50" y="601.80" class="n" text-anchor="middle" style="font-size:9.1px">6</text>
<text x="418.50" y="601.80" class="n" text-anchor="middle" style="font-size:9.1px">6</text>
<text x="434.30" y="601.80" class="n" text-anchor="middle" style="font-size:9.1px">6</text>
<text x="444.00" y="601.80" class="n" text-anchor="middle" style="font-size:9.1px">6</text>
<text x="454.50" y="601.80" class="n" text-anchor="middle" style="font-size:9.1px">1</text>
<text x="467.60" y="601.80" class="n" text-anchor="middle" style="font-size:9.1px">12</text>
<path class="zl" d="M421.20 733.10L483.00 733.10"/>
<path class="ax" d="M421.30 636.40L421.30 734.30"/>
<path class="ax" d="M419.50 733.10L421.30 733.10"/>
<text class="tk" text-anchor="end" transform="translate(418.20 736.10) scale(0.93 1)">0</text>
<path class="ax" d="M419.50 717.07L421.30 717.07"/>
<text class="tk" text-anchor="end" transform="translate(418.20 720.07) scale(0.93 1)">2</text>
<path class="ax" d="M419.50 701.03L421.30 701.03"/>
<text class="tk" text-anchor="end" transform="translate(418.20 704.03) scale(0.93 1)">4</text>
<path class="ax" d="M419.50 685.00L421.30 685.00"/>
<text class="tk" text-anchor="end" transform="translate(418.20 688.00) scale(0.93 1)">6</text>
<path class="ax" d="M419.50 668.97L421.30 668.97"/>
<text class="tk" text-anchor="end" transform="translate(418.20 671.97) scale(0.93 1)">8</text>
<path class="ax" d="M419.50 652.93L421.30 652.93"/>
<text class="tk" text-anchor="end" transform="translate(418.20 655.93) scale(0.93 1)">10</text>
<path class="ax" d="M419.50 636.90L421.30 636.90"/>
<text class="tk" text-anchor="end" transform="translate(418.20 639.90) scale(0.93 1)">12</text>
<path class="ax" d="M481.80 636.40L481.80 734.30"/>
<path class="ax" d="M481.80 733.10L484.00 733.10"/>
<text class="tk" text-anchor="start" transform="translate(485.40 736.10) scale(0.93 1)">0</text>
<path class="ax" d="M481.80 717.07L484.00 717.07"/>
<text class="tk" text-anchor="start" transform="translate(485.40 720.07) scale(0.93 1)">2</text>
<path class="ax" d="M481.80 701.03L484.00 701.03"/>
<text class="tk" text-anchor="start" transform="translate(485.40 704.03) scale(0.93 1)">4</text>
<path class="ax" d="M481.80 685.00L484.00 685.00"/>
<text class="tk" text-anchor="start" transform="translate(485.40 688.00) scale(0.93 1)">6</text>
<path class="ax" d="M481.80 668.97L484.00 668.97"/>
<text class="tk" text-anchor="start" transform="translate(485.40 671.97) scale(0.93 1)">8</text>
<path class="ax" d="M481.80 652.93L484.00 652.93"/>
<text class="tk" text-anchor="start" transform="translate(485.40 655.93) scale(0.93 1)">10</text>
<path class="ax" d="M481.80 636.90L484.00 636.90"/>
<text class="tk" text-anchor="start" transform="translate(485.40 639.90) scale(0.93 1)">12</text>
<text class="ar" text-anchor="middle" style="font-size:8.8px" textLength="29.4" lengthAdjust="spacingAndGlyphs" transform="translate(405.50 679.00) rotate(-90)">abs ratio</text>
<text class="ar" text-anchor="middle" style="font-size:8.8px" textLength="29.4" lengthAdjust="spacingAndGlyphs" transform="translate(502.90 679.10) rotate(-90)">abs ratio</text>
<text x="335.00" y="667.00" class="lab">AdhFIX</text>
<text x="335.00" y="682.00" class="lab">challenge</text>
<text x="335.00" y="697.00" class="lab">controls</text>
<path class="ax" d="M426.50 760.40L472.90 760.40"/>
<path class="ax" d="M427.00 760.40L427.00 763.00"/>
<path class="ax" d="M434.45 760.40L434.45 762.30"/>
<path class="ax" d="M441.90 760.40L441.90 762.30"/>
<path class="ax" d="M449.35 760.40L449.35 762.30"/>
<path class="ax" d="M456.80 760.40L456.80 762.30"/>
<path class="ax" d="M464.25 760.40L464.25 763.80"/>
<path class="ax" d="M471.70 760.40L471.70 762.30"/>
<text x="427.60" y="771.70" class="tk" text-anchor="middle">0</text>
<text x="459.70" y="771.00" class="de" style="font-size:8.85px">50 days of expt</text>
<path class="t" d="M442.10 755.40L443.55 760.40L440.65 760.40Z"/>
<path class="t" d="M461.00 755.40L462.45 760.40L459.55 760.40Z"/>
<path class="d" d="M468.20 638.60L472.60 643.00L468.20 647.40L463.80 643.00Z"/>
<path class="d" d="M468.20 660.80L472.60 665.20L468.20 669.60L463.80 665.20Z"/>
<path class="d" d="M448.50 708.00L452.90 712.40L448.50 716.80L444.10 712.40Z"/>
<path class="d" d="M464.00 717.50L468.40 721.90L464.00 726.30L459.60 721.90Z"/>
<path class="d" d="M448.10 720.00L452.50 724.40L448.10 728.80L443.70 724.40Z"/>
<path class="d" d="M464.00 720.50L468.40 724.90L464.00 729.30L459.60 724.90Z"/>
<path class="d" d="M448.50 723.20L452.90 727.60L448.50 732.00L444.10 727.60Z"/>
<path class="d" d="M453.00 725.70L457.40 730.10L453.00 734.50L448.60 730.10Z"/>
<path class="d" d="M442.20 733.10L446.60 737.50L442.20 741.90L437.80 737.50Z"/>
<path class="d" d="M448.10 733.10L452.50 737.50L448.10 741.90L443.70 737.50Z"/>
<path class="d" d="M453.40 733.10L457.80 737.50L453.40 741.90L449.00 737.50Z"/>
<text x="442.20" y="754.50" class="n" text-anchor="middle">5</text>
<text x="450.60" y="754.50" class="n" text-anchor="middle">12</text>
</svg>
</body></html>
